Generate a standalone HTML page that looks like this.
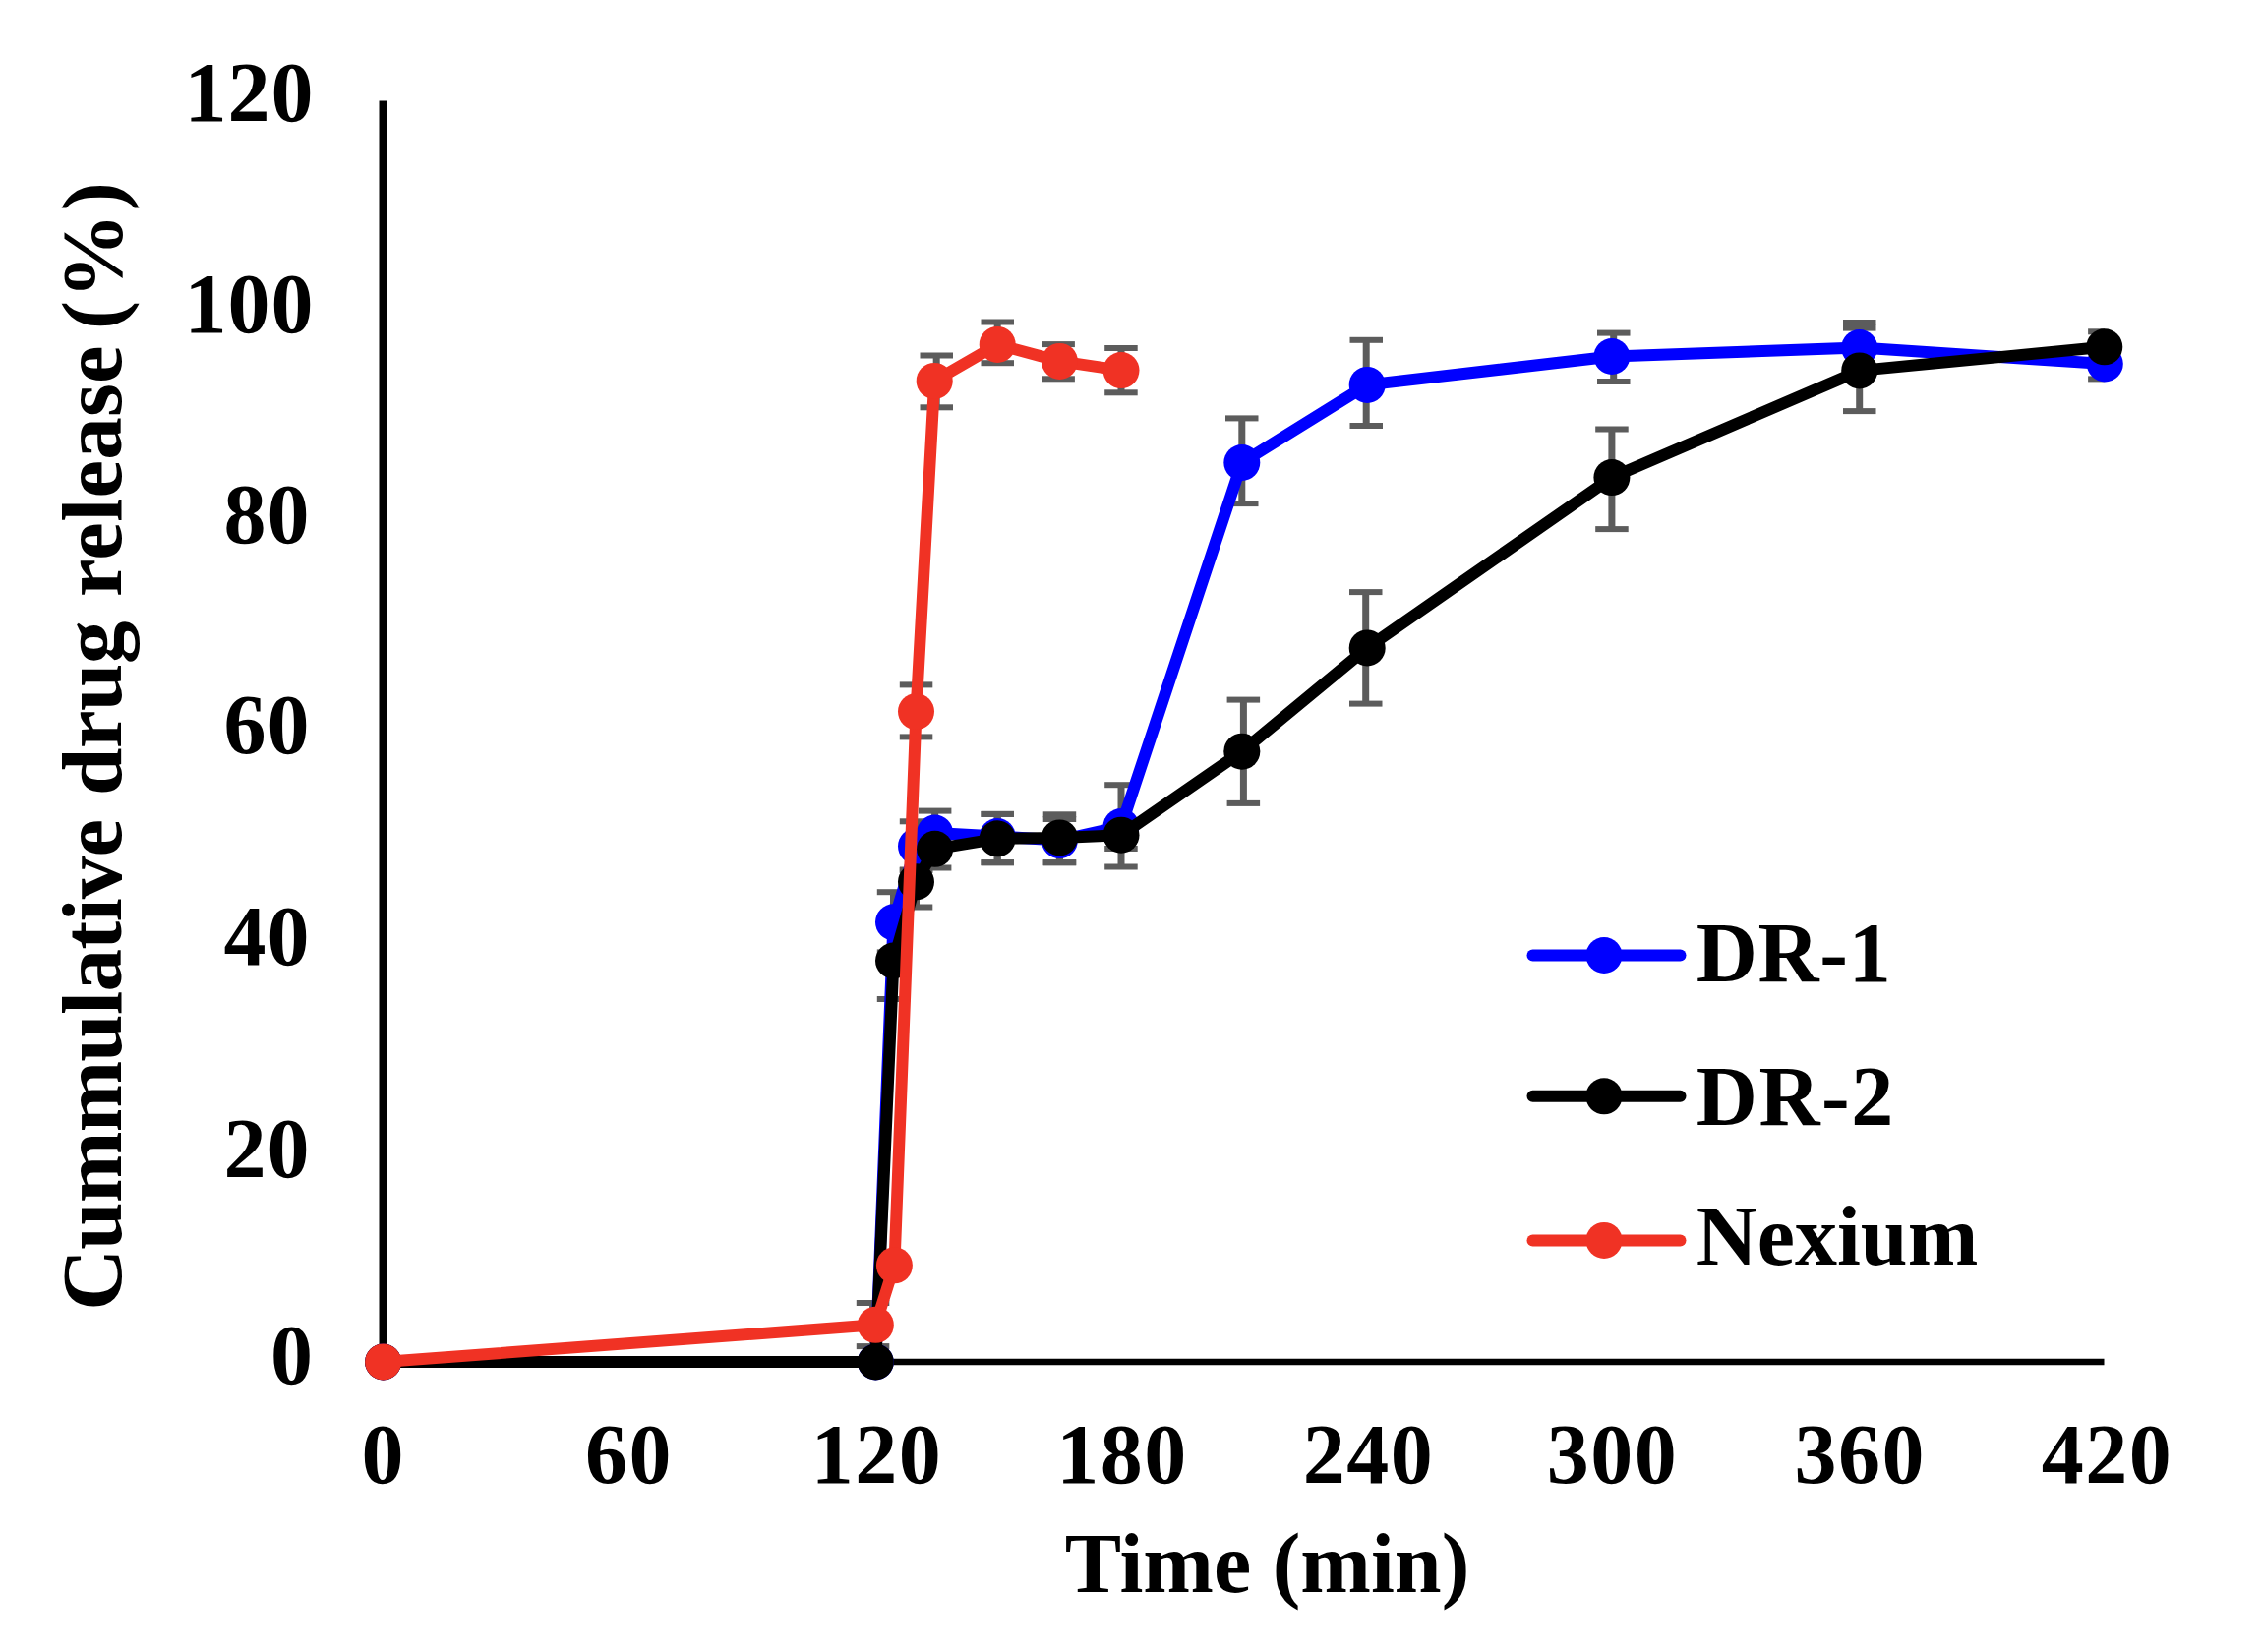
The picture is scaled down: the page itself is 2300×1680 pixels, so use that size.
<!DOCTYPE html>
<html lang="en">
<head>
<meta charset="utf-8">
<title>Cummulative drug release</title>
<style>
html,body{margin:0;padding:0;background:#fff;}
body{width:2300px;height:1680px;overflow:hidden;}
svg{display:block;}
</style>
</head>
<body>
<svg role="img" aria-label="Cummulative drug release (%) versus time (min) for DR-1, DR-2 and Nexium" width="2300" height="1680" viewBox="0 0 2300 1680" font-family="'Liberation Serif',serif" font-weight="bold" fill="#000">
<rect width="2300" height="1680" fill="#ffffff"/>
<g id="axes">
<path d="M389.6 102.6V1388.2" stroke="#000" stroke-width="8.2" fill="none"/>
<path d="M385.5 1385.0H2139.5" stroke="#000" stroke-width="6.5" fill="none"/>
</g>
<g id="y-tick-labels">
<text x="319.5" y="123.3" text-anchor="end" font-size="86" letter-spacing="1">120</text>
<text x="319.5" y="338.0" text-anchor="end" font-size="86" letter-spacing="1">100</text>
<text x="315.5" y="552.0" text-anchor="end" font-size="86" letter-spacing="1">80</text>
<text x="315.5" y="766.2" text-anchor="end" font-size="86" letter-spacing="1">60</text>
<text x="315.5" y="981.1" text-anchor="end" font-size="86" letter-spacing="1">40</text>
<text x="315.5" y="1196.7" text-anchor="end" font-size="86" letter-spacing="1">20</text>
<text x="319.0" y="1407.3" text-anchor="end" font-size="86" letter-spacing="1">0</text>
</g>
<g id="x-tick-labels">
<text x="389.8" y="1508.3" text-anchor="middle" font-size="86" letter-spacing="1.5">0</text>
<text x="639.5" y="1508.3" text-anchor="middle" font-size="86" letter-spacing="1.5">60</text>
<text x="891.5" y="1508.3" text-anchor="middle" font-size="86" letter-spacing="1.5">120</text>
<text x="1141.0" y="1508.3" text-anchor="middle" font-size="86" letter-spacing="1.5">180</text>
<text x="1391.5" y="1508.3" text-anchor="middle" font-size="86" letter-spacing="1.5">240</text>
<text x="1639.5" y="1508.3" text-anchor="middle" font-size="86" letter-spacing="1.5">300</text>
<text x="1891.3" y="1508.3" text-anchor="middle" font-size="86" letter-spacing="1.5">360</text>
<text x="2142.5" y="1508.3" text-anchor="middle" font-size="86" letter-spacing="1.5">420</text>
</g>
<g id="axis-titles">
<text x="1288.5" y="1619" text-anchor="middle" font-size="86">Time (min)</text>
<text transform="rotate(-90)" y="123.1" font-size="87"><tspan x="-1332.8" letter-spacing="-0.75">Cummulative</tspan> <tspan x="-809.0" letter-spacing="-0.5">drug</tspan> <tspan x="-606.9" letter-spacing="0.18">release</tspan> <tspan x="-335.0" letter-spacing="2.35">(%)</tspan></text>
</g>
<g id="error-bars">
<path d="M908.5 907.2V968.4" stroke="#5c5c5c" stroke-width="7" fill="none"/>
<rect x="891.8" y="904.2" width="33.5" height="6" fill="#5c5c5c"/>
<rect x="891.8" y="965.4" width="33.5" height="6" fill="#5c5c5c"/>
<path d="M931.5 835.3V885.0" stroke="#5c5c5c" stroke-width="7" fill="none"/>
<rect x="914.8" y="832.3" width="33.5" height="6" fill="#5c5c5c"/>
<rect x="914.8" y="882.0" width="33.5" height="6" fill="#5c5c5c"/>
<path d="M950.6 824.6V869.0" stroke="#5c5c5c" stroke-width="7" fill="none"/>
<rect x="933.9" y="821.6" width="33.5" height="6" fill="#5c5c5c"/>
<rect x="933.9" y="866.0" width="33.5" height="6" fill="#5c5c5c"/>
<path d="M1014.2 827.9V877.2" stroke="#5c5c5c" stroke-width="7" fill="none"/>
<rect x="997.5" y="824.9" width="33.5" height="6" fill="#5c5c5c"/>
<rect x="997.5" y="874.2" width="33.5" height="6" fill="#5c5c5c"/>
<path d="M1077.4 833.0V877.2" stroke="#5c5c5c" stroke-width="7" fill="none"/>
<rect x="1060.7" y="830.0" width="33.5" height="6" fill="#5c5c5c"/>
<rect x="1060.7" y="874.2" width="33.5" height="6" fill="#5c5c5c"/>
<path d="M1140.0 798.2V881.5" stroke="#5c5c5c" stroke-width="7" fill="none"/>
<rect x="1123.2" y="795.2" width="33.5" height="6" fill="#5c5c5c"/>
<rect x="1123.2" y="878.5" width="33.5" height="6" fill="#5c5c5c"/>
<path d="M1262.8 425.4V512.1" stroke="#5c5c5c" stroke-width="7" fill="none"/>
<rect x="1246.0" y="422.4" width="33.5" height="6" fill="#5c5c5c"/>
<rect x="1246.0" y="509.1" width="33.5" height="6" fill="#5c5c5c"/>
<path d="M1389.2 345.8V433.0" stroke="#5c5c5c" stroke-width="7" fill="none"/>
<rect x="1372.5" y="342.8" width="33.5" height="6" fill="#5c5c5c"/>
<rect x="1372.5" y="430.0" width="33.5" height="6" fill="#5c5c5c"/>
<path d="M1640.7 338.6V388.0" stroke="#5c5c5c" stroke-width="7" fill="none"/>
<rect x="1624.0" y="335.6" width="33.5" height="6" fill="#5c5c5c"/>
<rect x="1624.0" y="385.0" width="33.5" height="6" fill="#5c5c5c"/>
<path d="M1890.7 328.0V379.2" stroke="#5c5c5c" stroke-width="7" fill="none"/>
<rect x="1874.0" y="325.0" width="33.5" height="6" fill="#5c5c5c"/>
<rect x="1874.0" y="376.2" width="33.5" height="6" fill="#5c5c5c"/>
<path d="M2139.8 354.6V385.4" stroke="#5c5c5c" stroke-width="7" fill="none"/>
<rect x="2123.1" y="351.6" width="16.75" height="6" fill="#5c5c5c"/>
<rect x="2123.1" y="382.4" width="16.75" height="6" fill="#5c5c5c"/>
<path d="M908.5 938.0V1016.0" stroke="#5c5c5c" stroke-width="7" fill="none"/>
<rect x="891.8" y="935.0" width="33.5" height="6" fill="#5c5c5c"/>
<rect x="891.8" y="1013.0" width="33.5" height="6" fill="#5c5c5c"/>
<path d="M931.5 884.5V922.5" stroke="#5c5c5c" stroke-width="7" fill="none"/>
<rect x="914.8" y="881.5" width="33.5" height="6" fill="#5c5c5c"/>
<rect x="914.8" y="919.5" width="33.5" height="6" fill="#5c5c5c"/>
<path d="M950.6 844.0V882.5" stroke="#5c5c5c" stroke-width="7" fill="none"/>
<rect x="933.9" y="841.0" width="33.5" height="6" fill="#5c5c5c"/>
<rect x="933.9" y="879.5" width="33.5" height="6" fill="#5c5c5c"/>
<path d="M1014.2 827.9V877.2" stroke="#5c5c5c" stroke-width="7" fill="none"/>
<rect x="997.5" y="824.9" width="33.5" height="6" fill="#5c5c5c"/>
<rect x="997.5" y="874.2" width="33.5" height="6" fill="#5c5c5c"/>
<path d="M1077.4 828.3V877.2" stroke="#5c5c5c" stroke-width="7" fill="none"/>
<rect x="1060.7" y="825.3" width="33.5" height="6" fill="#5c5c5c"/>
<rect x="1060.7" y="874.2" width="33.5" height="6" fill="#5c5c5c"/>
<path d="M1140.0 835.4V863.0" stroke="#5c5c5c" stroke-width="7" fill="none"/>
<rect x="1123.2" y="832.4" width="33.5" height="6" fill="#5c5c5c"/>
<rect x="1123.2" y="860.0" width="33.5" height="6" fill="#5c5c5c"/>
<path d="M1264.4 711.6V816.9" stroke="#5c5c5c" stroke-width="7" fill="none"/>
<rect x="1247.6" y="708.6" width="33.5" height="6" fill="#5c5c5c"/>
<rect x="1247.6" y="813.9" width="33.5" height="6" fill="#5c5c5c"/>
<path d="M1388.7 602.1V715.6" stroke="#5c5c5c" stroke-width="7" fill="none"/>
<rect x="1372.0" y="599.1" width="33.5" height="6" fill="#5c5c5c"/>
<rect x="1372.0" y="712.6" width="33.5" height="6" fill="#5c5c5c"/>
<path d="M1638.9 436.5V538.1" stroke="#5c5c5c" stroke-width="7" fill="none"/>
<rect x="1622.2" y="433.5" width="33.5" height="6" fill="#5c5c5c"/>
<rect x="1622.2" y="535.1" width="33.5" height="6" fill="#5c5c5c"/>
<path d="M1890.7 333.6V418.1" stroke="#5c5c5c" stroke-width="7" fill="none"/>
<rect x="1874.0" y="330.6" width="33.5" height="6" fill="#5c5c5c"/>
<rect x="1874.0" y="415.1" width="33.5" height="6" fill="#5c5c5c"/>
<path d="M2139.8 337.3V368.3" stroke="#5c5c5c" stroke-width="7" fill="none"/>
<rect x="2123.1" y="334.3" width="16.75" height="6" fill="#5c5c5c"/>
<rect x="2123.1" y="365.3" width="16.75" height="6" fill="#5c5c5c"/>
<path d="M887.6 1325.0V1369.1" stroke="#5c5c5c" stroke-width="7" fill="none"/>
<rect x="870.8" y="1322.0" width="33.5" height="6" fill="#5c5c5c"/>
<rect x="870.8" y="1366.1" width="33.5" height="6" fill="#5c5c5c"/>
<path d="M931.5 696.4V749.4" stroke="#5c5c5c" stroke-width="7" fill="none"/>
<rect x="914.8" y="693.4" width="33.5" height="6" fill="#5c5c5c"/>
<rect x="914.8" y="746.4" width="33.5" height="6" fill="#5c5c5c"/>
<path d="M952.2 361.5V414.3" stroke="#5c5c5c" stroke-width="7" fill="none"/>
<rect x="935.5" y="358.5" width="33.5" height="6" fill="#5c5c5c"/>
<rect x="935.5" y="411.3" width="33.5" height="6" fill="#5c5c5c"/>
<path d="M1014.2 327.5V369.2" stroke="#5c5c5c" stroke-width="7" fill="none"/>
<rect x="997.5" y="324.5" width="33.5" height="6" fill="#5c5c5c"/>
<rect x="997.5" y="366.2" width="33.5" height="6" fill="#5c5c5c"/>
<path d="M1076.1 350.1V385.3" stroke="#5c5c5c" stroke-width="7" fill="none"/>
<rect x="1059.4" y="347.1" width="33.5" height="6" fill="#5c5c5c"/>
<rect x="1059.4" y="382.3" width="33.5" height="6" fill="#5c5c5c"/>
<path d="M1140.0 354.0V399.3" stroke="#5c5c5c" stroke-width="7" fill="none"/>
<rect x="1123.2" y="351.0" width="33.5" height="6" fill="#5c5c5c"/>
<rect x="1123.2" y="396.3" width="33.5" height="6" fill="#5c5c5c"/>
</g>
<g id="series-dr1">
<polyline points="389.6,1385.0 890.3,1385.0 908.5,937.8 931.5,860.6 950.6,847.0 1014.2,850.5 1077.4,854.6 1140.0,840.5 1262.8,470.5 1390.2,391.4 1638.9,362.5 1890.7,353.6 2140.3,370.0" fill="none" stroke="#0000ff" stroke-width="12" stroke-linejoin="round" stroke-linecap="round"/>
<circle cx="389.6" cy="1385.0" r="18.5" fill="#0000ff"/>
<circle cx="890.3" cy="1385.0" r="18.5" fill="#0000ff"/>
<circle cx="908.5" cy="937.8" r="18.5" fill="#0000ff"/>
<circle cx="931.5" cy="860.6" r="18.5" fill="#0000ff"/>
<circle cx="950.6" cy="847.0" r="18.5" fill="#0000ff"/>
<circle cx="1014.2" cy="850.5" r="18.5" fill="#0000ff"/>
<circle cx="1077.4" cy="854.6" r="18.5" fill="#0000ff"/>
<circle cx="1140.0" cy="840.5" r="18.5" fill="#0000ff"/>
<circle cx="1262.8" cy="470.5" r="18.5" fill="#0000ff"/>
<circle cx="1390.2" cy="391.4" r="18.5" fill="#0000ff"/>
<circle cx="1638.9" cy="362.5" r="18.5" fill="#0000ff"/>
<circle cx="1890.7" cy="353.6" r="18.5" fill="#0000ff"/>
<circle cx="2140.3" cy="370.0" r="18.5" fill="#0000ff"/>
</g>
<g id="series-dr2">
<polyline points="389.6,1385.0 890.3,1385.0 908.5,977.0 931.5,896.8 950.6,863.3 1014.2,852.8 1077.4,851.9 1140.0,849.2 1262.8,764.2 1390.2,658.9 1638.9,485.6 1890.7,376.9 2139.8,352.8" fill="none" stroke="#000000" stroke-width="12" stroke-linejoin="round" stroke-linecap="round"/>
<circle cx="389.6" cy="1385.0" r="18.5" fill="#000000"/>
<circle cx="890.3" cy="1385.0" r="18.5" fill="#000000"/>
<circle cx="908.5" cy="977.0" r="18.5" fill="#000000"/>
<circle cx="931.5" cy="896.8" r="18.5" fill="#000000"/>
<circle cx="950.6" cy="863.3" r="18.5" fill="#000000"/>
<circle cx="1014.2" cy="852.8" r="18.5" fill="#000000"/>
<circle cx="1077.4" cy="851.9" r="18.5" fill="#000000"/>
<circle cx="1140.0" cy="849.2" r="18.5" fill="#000000"/>
<circle cx="1262.8" cy="764.2" r="18.5" fill="#000000"/>
<circle cx="1390.2" cy="658.9" r="18.5" fill="#000000"/>
<circle cx="1638.9" cy="485.6" r="18.5" fill="#000000"/>
<circle cx="1890.7" cy="376.9" r="18.5" fill="#000000"/>
<circle cx="2139.8" cy="352.8" r="18.5" fill="#000000"/>
</g>
<g id="series-nex">
<polyline points="389.6,1385.0 890.3,1347.3 909.4,1286.8 931.5,723.6 950.2,387.4 1014.2,350.4 1077.4,367.4 1140.0,376.6" fill="none" stroke="#f03224" stroke-width="12" stroke-linejoin="round" stroke-linecap="round"/>
<circle cx="389.6" cy="1385.0" r="18.5" fill="#f03224"/>
<circle cx="890.3" cy="1347.3" r="18.5" fill="#f03224"/>
<circle cx="909.4" cy="1286.8" r="18.5" fill="#f03224"/>
<circle cx="931.5" cy="723.6" r="18.5" fill="#f03224"/>
<circle cx="950.2" cy="387.4" r="18.5" fill="#f03224"/>
<circle cx="1014.2" cy="350.4" r="18.5" fill="#f03224"/>
<circle cx="1077.4" cy="367.4" r="18.5" fill="#f03224"/>
<circle cx="1140.0" cy="376.6" r="18.5" fill="#f03224"/>
</g>
<g id="legend">
<path d="M1558.5 971.5H1708.5" stroke="#0000ff" stroke-width="12" stroke-linecap="round" fill="none"/>
<circle cx="1631" cy="971.5" r="18.5" fill="#0000ff"/>
<text x="1724.7" y="997.5" font-size="86" letter-spacing="0.7">DR-1</text>
<path d="M1558.5 1114.8H1708.5" stroke="#000000" stroke-width="12" stroke-linecap="round" fill="none"/>
<circle cx="1631" cy="1114.8" r="18.5" fill="#000000"/>
<text x="1724.7" y="1143.6" font-size="86" letter-spacing="1.6">DR-2</text>
<path d="M1558.5 1261.4H1708.5" stroke="#f03224" stroke-width="12" stroke-linecap="round" fill="none"/>
<circle cx="1631" cy="1261.4" r="18.5" fill="#f03224"/>
<text x="1724.7" y="1286.0" font-size="86" letter-spacing="0">Nexium</text>
</g>
</svg>
</body>
</html>
